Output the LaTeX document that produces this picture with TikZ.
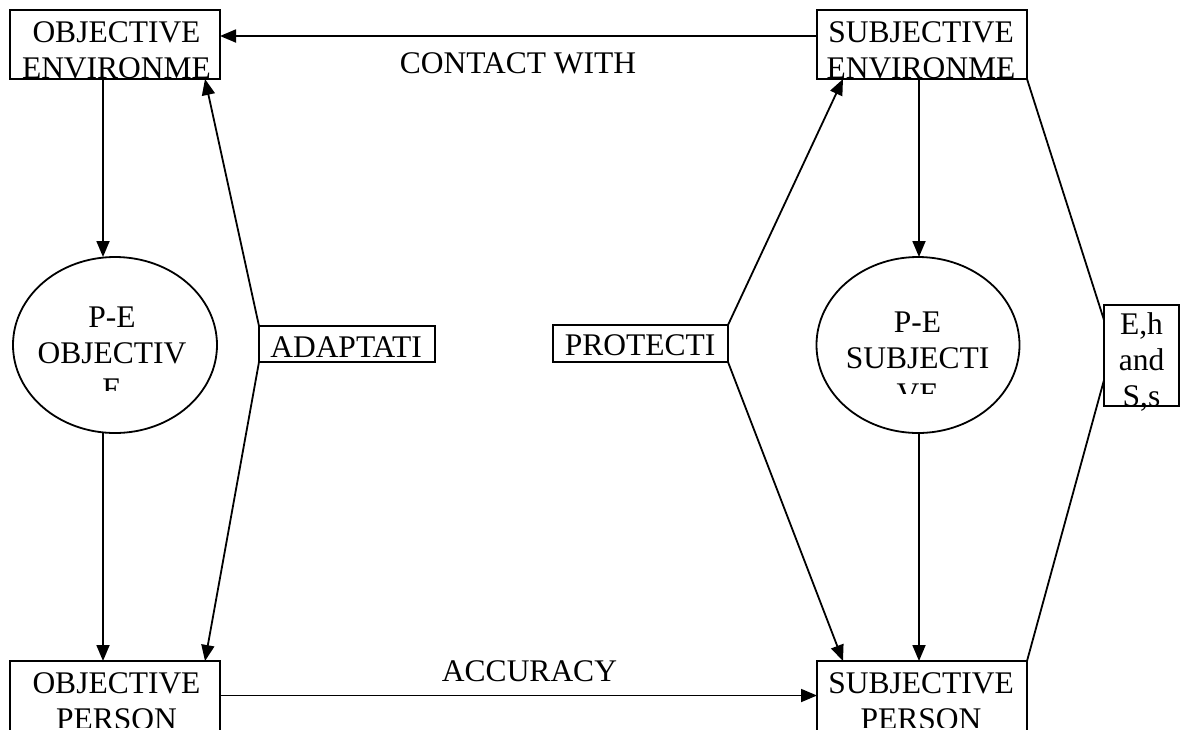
\documentclass[tikz,border=0pt]{standalone}
\usepackage{fontspec}
\setmainfont{Liberation Serif}
\usetikzlibrary{arrows.meta,shapes.geometric,calc}
\tikzset{
  box/.style={draw, line width=1.8pt, rectangle, inner sep=0pt, outer sep=0pt},
  oval/.style={draw, line width=1.8pt, ellipse, inner sep=0pt, outer sep=0pt},
  txt/.style={font=\fontsize{31.5}{36}\selectfont, align=center, inner sep=0pt},
  arr/.style={line width=1.8pt, -{Triangle[length=16pt,width=13pt]}},
  ln/.style={line width=1.8pt}
}
\begin{document}
\begin{tikzpicture}[x=1pt,y=-1pt]
\useasboundingbox[fill=white] (0,0) rectangle (1181,729);
% shapes
\node[box, minimum width=210pt, minimum height=69pt] (oenv) at (115,44.5) {};
\node[box, minimum width=210pt, minimum height=69pt] (senv) at (922,44.5) {};
\node[box, minimum width=210pt, minimum height=73pt] (oper) at (115,697.5) {};
\node[box, minimum width=210pt, minimum height=73pt] (sper) at (922,697.5) {};
\node[oval, minimum width=204pt, minimum height=176pt] (oell) at (115,345) {};
\node[oval, minimum width=203pt, minimum height=176pt] (sell) at (918,345) {};
\node[box, minimum width=176pt, minimum height=36pt] (adapt) at (347,344) {};
\node[box, minimum width=175pt, minimum height=37pt] (prot) at (640.5,343.5) {};
\node[box, minimum width=75pt, minimum height=101pt] (ehs) at (1141.5,355.5) {};
% texts (clipped like the original text boxes)
\begin{scope}
\clip (oenv.south west) rectangle (oenv.north east);
\node[txt, anchor=north] (toenv) at (116.5,21.5) {OBJECTIVE\\ENVIRONME};
\end{scope}
\begin{scope}
\clip (senv.south west) rectangle (senv.north east);
\node[txt, anchor=north] (tsenv) at (921,21) {SUBJECTIVE\\ENVIRONME};
\end{scope}
\begin{scope}
\clip (10,661) rectangle (220,727);
\node[txt, anchor=north] (toper) at (116.5,672) {OBJECTIVE\\PERSON};
\end{scope}
\begin{scope}
\clip (817,661) rectangle (1027,727);
\node[txt, anchor=north] (tsper) at (921,672) {SUBJECTIVE\\PERSON};
\end{scope}
\begin{scope}
\clip (20,290) rectangle (210,390);
\node[txt, anchor=north] (toell) at (112,307) {P-E\\OBJECTIV\\E};
\end{scope}
\begin{scope}
\clip (825,290) rectangle (1010,393);
\node[txt, anchor=north] (tsell) at (917.5,312) {P-E\\SUBJECTI\\VE};
\end{scope}
\node[txt, anchor=base] (tadapt) at (346,357) {ADAPTATI};
\node[txt, anchor=base] (tprot) at (640,355) {PROTECTI};
\node[txt, anchor=north] (tehs) at (1141.5,312.5) {E,h\\and\\S,s};
% labels
\node[txt, anchor=base] (lcontact) at (518,73) {CONTACT WITH};
\node[txt, anchor=base] (lacc) at (529.5,681) {ACCURACY};
% connectors
\draw[arr] ([yshift=8.5pt]senv.west) -- ([yshift=8.5pt]oenv.east);
\draw[arr] ([yshift=2pt]oper.east) -- ([yshift=2pt]sper.west);
\draw[arr] ([xshift=-12pt]oenv.south) -- ([xshift=-12pt]oell.north);
\draw[arr] ([xshift=-12pt]oell.south) -- ([xshift=-12pt]oper.north);
\draw[arr] (adapt.north west) -- ([xshift=-15pt]oenv.south east);
\draw[arr] (adapt.south west) -- ([xshift=-15pt]oper.north east);
\draw[arr] (prot.north east) -- ([xshift=26pt]senv.south west);
\draw[arr] (prot.south east) -- ([xshift=26pt]sper.north west);
\draw[arr] ([xshift=-3pt]senv.south) -- ([xshift=1pt]sell.north);
\draw[arr] ([xshift=1pt]sell.south) -- ([xshift=-3pt]sper.north);
\draw[ln] (senv.south east) -- ([yshift=35.5pt]ehs.west);
\draw[ln] ([yshift=-24.5pt]ehs.west) -- (sper.north east);
\end{tikzpicture}
\end{document}
